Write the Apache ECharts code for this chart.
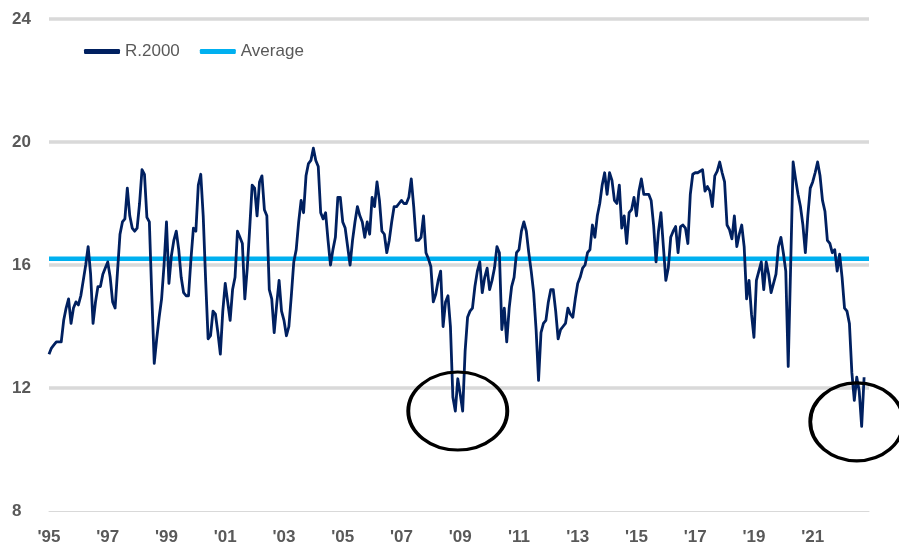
<!DOCTYPE html>
<html><head><meta charset="utf-8">
<script src="https://cdn.jsdelivr.net/npm/echarts@6/dist/echarts.min.js"></script>
<style>html,body{margin:0;padding:0;background:#fff}#c{width:899px;height:550px}</style>
</head><body><div id="c"></div>
<script>
// ---- data (monthly forward P/E, Russell 2000) ----
const startYear = 1995;
const endYear = 2022;
const r2000_1995 = [13.1, 13.3, 13.4, 13.5, 13.5, 13.5, 14.2, 14.6, 14.9, 14.1, 14.6, 14.8];
const r2000_1996 = [14.7, 15.0, 15.5, 16.0, 16.6, 15.7, 14.1, 14.8, 15.3, 15.3, 15.7, 15.9];
const r2000_1997 = [16.1, 15.6, 14.8, 14.6, 15.8, 17.0, 17.4, 17.5, 18.5, 17.6, 17.2, 17.1];
const r2000_1998 = [17.2, 18.0, 19.1, 18.95, 17.55, 17.4, 15.0, 12.8, 13.6, 14.3, 14.9, 16.0];
const r2000_1999 = [17.4, 15.4, 16.3, 16.8, 17.1, 16.5, 15.6, 15.1, 15.0, 15.0, 16.2, 17.2];
const r2000_2000 = [17.1, 18.6, 18.95, 17.6, 15.5, 13.6, 13.7, 14.5, 14.4, 13.8, 13.1, 14.5];
const r2000_2001 = [15.4, 14.8, 14.2, 15.2, 15.6, 17.1, 16.9, 16.7, 14.9, 15.9, 17.2, 18.6];
const r2000_2002 = [18.5, 17.6, 18.7, 18.9, 17.8, 17.6, 15.2, 14.9, 13.8, 14.7, 15.5, 14.5];
const r2000_2003 = [14.2, 13.7, 14.0, 15.0, 16.1, 16.5, 17.4, 18.1, 17.7, 18.9, 19.3, 19.4];
const r2000_2004 = [19.8, 19.4, 19.2, 17.7, 17.5, 17.7, 16.8, 16.0, 16.5, 16.9, 18.2, 18.2];
const r2000_2005 = [17.4, 17.2, 16.6, 16.0, 16.8, 17.4, 17.9, 17.6, 17.4, 16.9, 17.4, 17.0];
const r2000_2006 = [18.2, 17.9, 18.7, 18.1, 17.1, 17.0, 16.4, 16.8, 17.4, 17.9, 17.9, 18.0];
const r2000_2007 = [18.1, 18.0, 18.0, 18.2, 18.8, 17.9, 16.8, 16.8, 16.9, 17.6, 16.4, 16.2];
const r2000_2008 = [15.95, 14.8, 15.05, 15.5, 15.8, 14.0, 14.8, 15.0, 14.0, 11.7, 11.25, 12.3];
const r2000_2009 = [11.8, 11.25, 13.2, 14.3, 14.5, 14.6, 15.3, 15.8, 16.1, 15.1, 15.6, 15.9];
const r2000_2010 = [15.2, 15.5, 15.9, 16.6, 16.4, 13.9, 14.6, 13.5, 14.6, 15.3, 15.6, 16.4];
const r2000_2011 = [16.5, 17.1, 17.4, 17.1, 16.4, 15.8, 15.1, 13.9, 12.25, 13.8, 14.1, 14.2];
const r2000_2012 = [14.8, 15.2, 15.2, 14.5, 13.6, 13.9, 14.0, 14.1, 14.6, 14.4, 14.3, 14.9];
const r2000_2013 = [15.4, 15.6, 15.9, 16.0, 16.4, 16.5, 17.3, 16.9, 17.6, 18.0, 18.6, 19.0];
const r2000_2014 = [18.3, 19.0, 18.75, 18.1, 18.0, 18.6, 17.2, 17.6, 16.7, 17.7, 17.8, 18.2];
const r2000_2015 = [17.6, 18.4, 18.8, 18.3, 18.3, 18.3, 18.1, 17.3, 16.1, 17.1, 17.7, 16.6];
const r2000_2016 = [15.5, 15.9, 16.9, 17.1, 17.25, 16.4, 17.25, 17.3, 17.2, 16.7, 18.3, 18.95];
const r2000_2017 = [19.0, 19.0, 19.05, 19.1, 18.4, 18.55, 18.4, 17.9, 18.9, 19.05, 19.35, 19.0];
const r2000_2018 = [18.7, 17.3, 17.15, 16.85, 17.6, 16.6, 17.0, 17.3, 16.6, 14.9, 15.5, 14.4];
const r2000_2019 = [13.65, 15.5, 15.8, 16.1, 15.2, 16.1, 15.7, 15.1, 15.4, 15.7, 16.6, 16.9];
const r2000_2020 = [16.4, 15.8, 12.7, 16.0, 19.35, 18.8, 18.3, 17.9, 17.3, 16.4, 17.6, 18.5];
const r2000_2021 = [18.7, 19.0, 19.35, 18.9, 18.1, 17.75, 16.8, 16.7, 16.4, 16.5, 15.8, 16.35];
const r2000_2022 = [15.6, 14.6, 14.5, 14.1, 12.5, 11.6, 12.35, 11.9, 10.75, 12.35, null, null];
const averageValue = 16.2;
const yTicks = [8, 12, 16, 20, 24];
const xTickYears = ['95','97','99','01','03','05','07','09','11','13','15','17','19','21'];
const circledLows = [['2008-12', 11.25], ['2022-07', 10.9]];
const circleSizes = [[99, 78], [93, 78]];

// ---- build ----
const months = [];
for (let y = startYear; y <= endYear; y++) {
  for (let m = 1; m <= 12; m++) months.push(y + '-' + String(m).padStart(2, '0'));
}
const r2000 = [].concat(r2000_1995, r2000_1996, r2000_1997, r2000_1998, r2000_1999,
  r2000_2000, r2000_2001, r2000_2002, r2000_2003, r2000_2004, r2000_2005, r2000_2006,
  r2000_2007, r2000_2008, r2000_2009, r2000_2010, r2000_2011, r2000_2012, r2000_2013,
  r2000_2014, r2000_2015, r2000_2016, r2000_2017, r2000_2018, r2000_2019, r2000_2020,
  r2000_2021, r2000_2022);
const average = months.map(() => averageValue);

const FONT = "'Liberation Sans', Arial, sans-serif";
const chart = echarts.init(document.getElementById('c'), null, {renderer: 'canvas'});
chart.setOption({
  animation: false,
  backgroundColor: '#ffffff',
  grid: {left: 49, right: 30, top: 19, bottom: 39, containLabel: false},
  legend: {
    data: ['R.2000', 'Average'],
    left: 79, top: 38,
    icon: 'roundRect',
    itemWidth: 36, itemHeight: 5, itemGap: 20,
    textStyle: {color: '#595959', fontSize: 17, fontFamily: FONT}
  },
  xAxis: {
    type: 'category',
    data: months,
    boundaryGap: false,
    axisLine: {show: true, lineStyle: {color: '#d9d9d9', width: 1}},
    axisTick: {show: false},
    splitLine: {show: false},
    axisLabel: {
      interval: (idx, val) => val.endsWith('-01') && xTickYears.includes(val.slice(2, 4)),
      formatter: v => "'" + v.slice(2, 4),
      color: '#595959', fontSize: 17, fontWeight: 'bold', fontFamily: FONT, margin: 18
    }
  },
  yAxis: {
    type: 'value',
    min: yTicks[0], max: yTicks[yTicks.length - 1], interval: 4,
    axisLine: {show: false},
    axisTick: {show: false},
    splitLine: {show: true, lineStyle: {color: ['rgba(0,0,0,0)', '#d9d9d9', '#d9d9d9', '#d9d9d9', '#d9d9d9'], width: 3.5}},
    axisLabel: {color: '#595959', fontSize: 17, fontWeight: 'bold', fontFamily: FONT, align: 'left', margin: 37}
  },
  series: [
    {
      name: 'Average', type: 'line', data: average, showSymbol: false, z: 2,
      lineStyle: {color: '#00b0f0', width: 4.5}, itemStyle: {color: '#00b0f0'}
    },
    {
      name: 'R.2000', type: 'line', data: r2000, showSymbol: false, z: 3, connectNulls: false,
      lineStyle: {color: '#002060', width: 2.8, join: 'round'}, itemStyle: {color: '#002060'}
    },
    {
      name: 'lows', type: 'scatter', z: 4, clip: false, silent: true,
      data: circledLows.map((d, i) => ({value: d, symbolSize: circleSizes[i]})),
      symbol: 'circle',
      itemStyle: {color: 'rgba(0,0,0,0)', borderColor: '#000000', borderWidth: 3.5, opacity: 1}
    }
  ]
});
</script></body></html>
